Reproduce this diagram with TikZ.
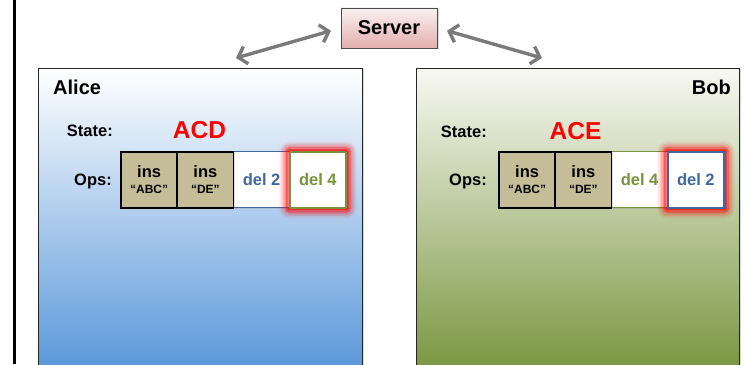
\documentclass[tikz,border=0pt]{standalone}
\usepackage{fontspec}
\setmainfont{Liberation Sans}
\usetikzlibrary{positioning,shadows,arrows.meta}
\definecolor{opstan}{HTML}{C4BD97}
\definecolor{delblue}{HTML}{41689C}
\definecolor{delgreen}{HTML}{77933C}
\definecolor{linkgray}{HTML}{7A7A7A}
\definecolor{srvtop}{HTML}{FBF1F1}
\definecolor{srvbot}{HTML}{E3AEAE}
\definecolor{alicemid}{HTML}{CFDFF2}
\definecolor{alicebot}{HTML}{5A98DA}
\definecolor{bobtop}{HTML}{F8F8F3}
\definecolor{bobmid}{HTML}{D7E0C9}
\definecolor{bobbot}{HTML}{7A9741}
\tikzstyle{site}=[draw=black!85,line width=0.9pt,minimum height=300pt,anchor=north west,inner sep=0pt,drop shadow={shadow xshift=2pt,shadow yshift=-1pt,opacity=.3}]
\tikzstyle{server}=[draw=black!70,line width=0.8pt,top color=srvtop,bottom color=srvbot,minimum width=96pt,minimum height=40pt,inner sep=0pt,font=\fontsize{20}{22}\selectfont\bfseries,drop shadow={shadow xshift=1.5pt,shadow yshift=-1.5pt,opacity=.3}]
\tikzstyle{bigname}=[inner sep=0pt,font=\fontsize{20}{22}\selectfont\bfseries]
\tikzstyle{rowlabel}=[inner sep=0pt,anchor=east,font=\fontsize{16.5}{18}\selectfont\bfseries]
\tikzstyle{docstate}=[inner sep=0pt,text=red,font=\fontsize{24.5}{26}\selectfont\bfseries]
\tikzstyle{opbox}=[minimum width=56.25pt,minimum height=56pt,inner sep=0pt,outer sep=0pt,drop shadow={shadow xshift=1.2pt,shadow yshift=-1.2pt,opacity=.25}]
\tikzstyle{insop}=[opbox,draw=black,line width=1.6pt,fill=opstan,align=center,font=\fontsize{16.5}{16}\selectfont\bfseries]
\tikzstyle{delop}=[opbox,line width=1pt,fill=white,font=\fontsize{16.5}{18}\selectfont\bfseries]
\tikzstyle{hot}=[line width=2.2pt]
\tikzstyle{link}=[draw=linkgray,line width=3.4pt,{Straight Barb[length=8pt,width=18pt]}-{Straight Barb[length=8pt,width=18pt]}]
\newcommand{\optext}[2]{{#1}\\{\fontsize{12}{14}\selectfont #2}}
\newcommand{\glowbox}[1]{%
  \foreach \gd/\go in {1.8/0.8,3/0.6,4.2/0.45,5.4/0.32,6.6/0.22,7.8/0.14,9/0.08,10.2/0.04}
    \draw[red,opacity=\go,line width=1.4pt,rounded corners=\gd pt]
      ([shift={(-\gd pt,\gd pt)}]#1.north west) rectangle ([shift={(\gd pt,-\gd pt)}]#1.south east);}

\begin{document}
\begin{tikzpicture}[x=1pt,y=1pt]
    \useasboundingbox (0,0) rectangle (752,364);
    % frame line on the left
    \draw[line width=2.2pt] (14.5,364) -- (14.5,0);
    % the two sites
    \node[site,minimum width=324pt,top color=white,middle color=alicemid,bottom color=alicebot] (alice) at (38,296) {};
    \node[site,minimum width=323pt,top color=bobtop,middle color=bobmid,bottom color=bobbot] (bob) at (416,296) {};
    \node[bigname,anchor=west] (alicename) at (53,277) {Alice};
    \node[bigname,anchor=east] (bobname) at (731,277) {Bob};
    % server and links
    \node[server] (server) at (389,336) {Server};
    \coordinate (alicehook) at (236,306);
    \coordinate (bobhook) at (542,306);
    \draw[link,shorten <=10pt] (server.west) -- (alicehook);
    \draw[link,shorten <=10pt] (server.east) -- (bobhook);
    % Alice: state and ops
    \node[rowlabel] (astate) at (113,233) {State:};
    \node[docstate] (astring) at (199.5,234) {ACD};
    \node[rowlabel] (aops) at (112,182.5) {Ops:};
    \node[delop,draw=delblue,text=delblue,anchor=west] (a3) at (233.5,184) {del 2};
    \node[delop,hot,draw=delgreen,text=delgreen,right=0pt of a3] (a4) {del 4};
    \node[insop,left=0pt of a3] (a2) {\optext{ins}{“DE”}};
    \node[insop,left=0pt of a2] (a1) {\optext{ins}{“ABC”}};
    \glowbox{a4}
    % Bob: state and ops
    \node[rowlabel] (bstate) at (487,232) {State:};
    \node[docstate] (bstring) at (575.5,233) {ACE};
    \node[rowlabel] (bops) at (487,182.5) {Ops:};
    \node[delop,draw=delgreen,text=delgreen,anchor=west] (b3) at (611.5,184) {del 4};
    \node[delop,hot,draw=delblue,text=delblue,right=0pt of b3] (b4) {del 2};
    \node[insop,left=0pt of b3] (b2) {\optext{ins}{“DE”}};
    \node[insop,left=0pt of b2] (b1) {\optext{ins}{“ABC”}};
    \glowbox{b4}
\end{tikzpicture}
\end{document}
